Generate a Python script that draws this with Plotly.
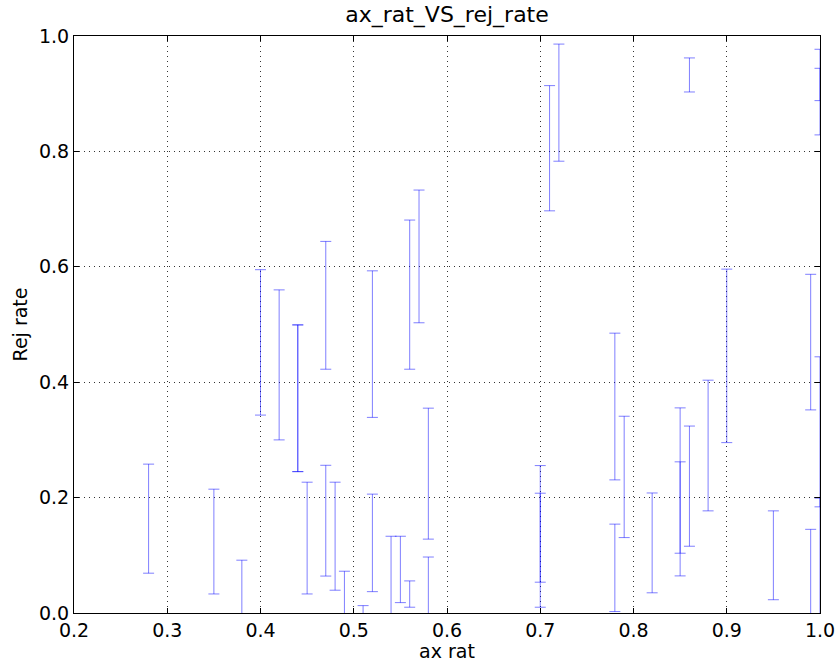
import plotly.graph_objects as go

# Error bar data (x position, lower end, upper end)
ax_rat = [0.28, 0.35, 0.38, 0.40, 0.42, 0.44, 0.44, 0.45, 0.47, 0.47, 0.48, 0.49,
          0.51, 0.52, 0.52, 0.54, 0.55, 0.56, 0.56, 0.57, 0.58, 0.58,
          0.70, 0.70, 0.71, 0.72, 0.78, 0.78, 0.79, 0.82, 0.85, 0.85, 0.86,
          0.88, 0.90, 0.95, 0.99, 0.99, 1.00, 1.00, 1.00, 1.00, 0.86]
rej_low = [0.069, 0.033, -0.05, 0.343, 0.300, 0.245, 0.245, 0.033, 0.4225, 0.064, 0.0395, -0.05,
           -0.05, 0.339, 0.037, -0.05, 0.018, 0.4225, 0.010, 0.503, 0.128, -0.05,
           0.010, 0.0534, 0.697, 0.783, 0.2307, 0.0025, 0.1307, 0.035, 0.1036, 0.0643, 0.1157,
           0.177, 0.2953, 0.023, -0.05, 0.352, 0.8286, 0.888, 0.184, -0.05, 0.903]
rej_high = [0.258, 0.2146, 0.0915, 0.595, 0.560, 0.4993, 0.4993, 0.2267, 0.644, 0.256, 0.2267, 0.0724,
            0.0128, 0.593, 0.206, 0.133, 0.133, 0.681, 0.0556, 0.733, 0.355, 0.097,
            0.2076, 0.2555, 0.914, 0.986, 0.485, 0.154, 0.341, 0.208, 0.3555, 0.262, 0.324,
            0.4035, 0.596, 0.177, 0.145, 0.587, 0.977, 0.944, 0.444, 0.199, 0.962]

x_ticks = [0.2, 0.3, 0.4, 0.5, 0.6, 0.7, 0.8, 0.9, 1.0]
y_ticks = [0.0, 0.2, 0.4, 0.6, 0.8, 1.0]

mid = [(lo + hi) / 2 for lo, hi in zip(rej_low, rej_high)]
half = [(hi - lo) / 2 for lo, hi in zip(rej_low, rej_high)]

fig = go.Figure()
fig.add_trace(go.Scatter(
    x=ax_rat, y=mid, mode="markers",
    marker=dict(size=1, color="rgba(0,0,0,0)"),
    error_y=dict(type="data", array=half, symmetric=True,
                 color="rgba(0,0,255,0.5)", thickness=1, width=5.5),
    showlegend=False, hoverinfo="skip",
))

font_family = "DejaVu Sans"
axis_common = dict(
    showline=True, linecolor="black", linewidth=1, mirror="ticks",
    ticks="inside", ticklen=5, tickcolor="black", tickwidth=1,
    showgrid=True, gridcolor="rgba(0,0,0,0.8)", griddash="1px,4px", gridwidth=1,
    zeroline=False, tickformat=".1f", automargin=False, ticklabeloverflow="allow",
    tickfont=dict(family=font_family, size=19, color="black"),
)

W, H = 835, 662
fig.update_layout(
    width=W, height=H,
    margin=dict(l=74, r=14.5, t=36, b=49),
    paper_bgcolor="white", plot_bgcolor="white",
    title=dict(text="ax_rat_VS_rej_rate", x=0.5, xanchor="center", xref="paper",
               y=1 - 14 / H, yanchor="middle", yref="container",
               font=dict(family=font_family, size=22, color="black")),
    xaxis=dict(range=[0.2, 1.0], tickvals=x_ticks,
               title=dict(text="ax rat", standoff=0,
                          font=dict(family=font_family, size=19, color="black")),
               **axis_common),
    yaxis=dict(range=[0.0, 1.0], tickvals=y_ticks,
               title=dict(text="Rej rate", standoff=6,
                          font=dict(family=font_family, size=19, color="black")),
               **axis_common),
)

# remove the browser's default 8px body margin so the figure fills the window
fig.write_html("out.html",
               config={"displayModeBar": False},
               post_script="document.body.style.margin='0';document.body.style.padding='0';")
